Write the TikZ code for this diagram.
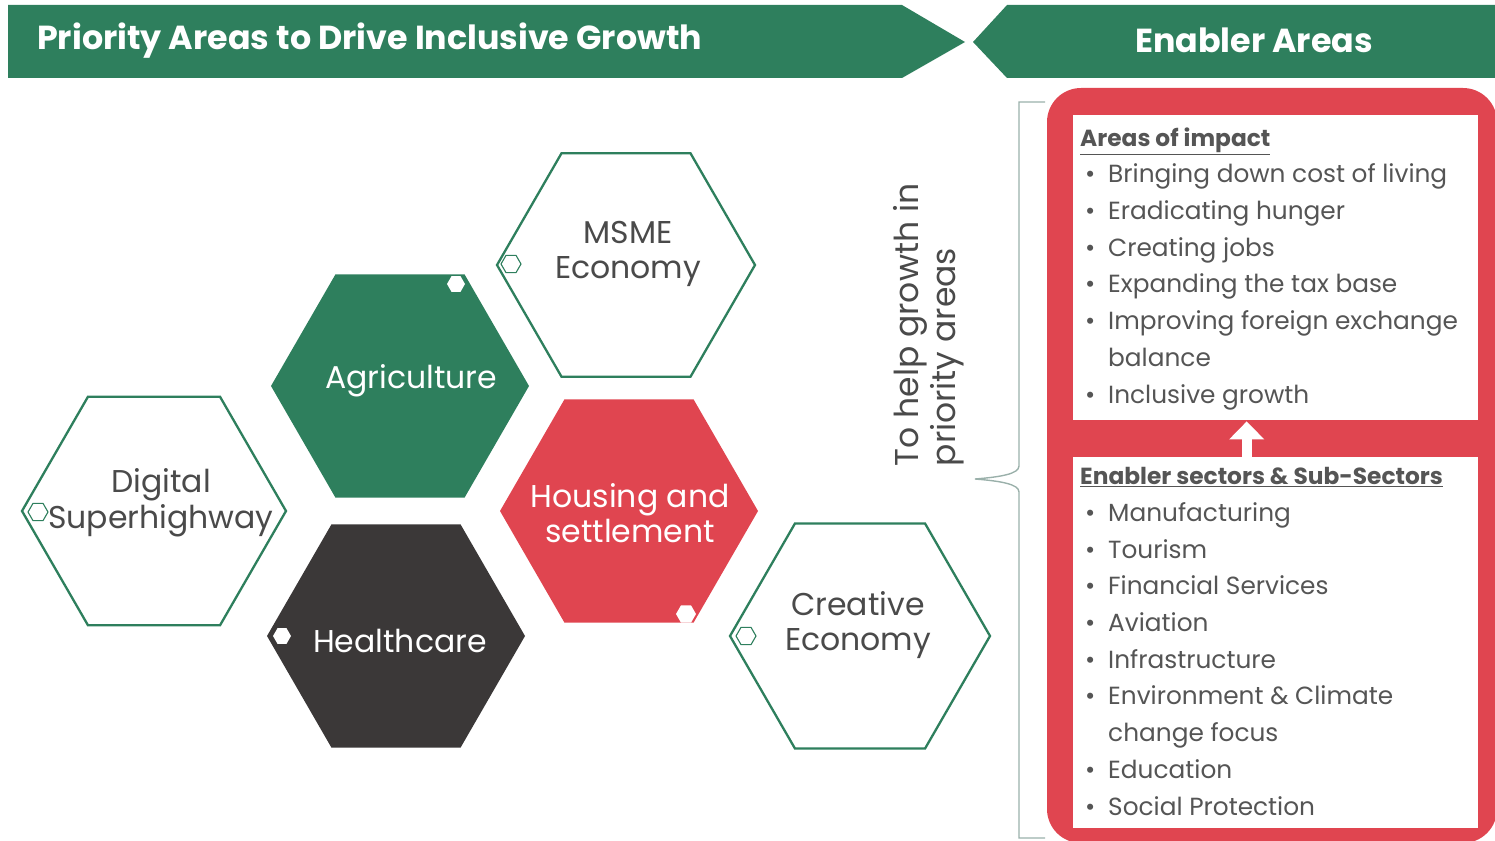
\documentclass[tikz,border=0pt]{standalone}
\usepackage{fontspec}
\setmainfont{Poppins}
\usetikzlibrary{arrows.meta}
\definecolor{pgreen}{HTML}{2E7F5D}
\definecolor{pred}{HTML}{E04550}
\definecolor{pdark}{HTML}{3B3838}
\definecolor{ptext}{HTML}{4A4A4A}
\definecolor{plist}{HTML}{555555}
\definecolor{pbrace}{HTML}{9AB0AA}
\newcommand{\hexa}[4]{\path[#1,shift={(#2,#3)}] (0:#4) -- (60:#4) -- (120:#4) -- (180:#4) -- (240:#4) -- (300:#4) -- cycle;}
\newcommand{\bul}[1]{\hspace*{5pt}\makebox[23pt][l]{\textbullet}#1}
\newcommand{\cont}[1]{\hspace*{28pt}#1}
\newcommand{\listhead}[1]{{\fontsize{23.3}{36.7}\selectfont\bfseries\underline{#1}}}
\tikzset{
  hexout/.style={draw=pgreen,line width=2.3pt,fill=white},
  hexgreen/.style={fill=pgreen},
  hexred/.style={fill=pred},
  hexdark/.style={fill=pdark},
  markout/.style={draw=pgreen,line width=1.1pt,fill=white},
  markwhite/.style={fill=white},
  hextext/.style={align=center,font=\fontsize{31.5}{35.5}\selectfont,text=ptext,inner sep=0pt},
  hexwtext/.style={hextext,text=white},
  vtext/.style={hextext,font=\fontsize{33}{37}\selectfont,align=left,rotate=90},
  headtext/.style={font=\bfseries\fontsize{33.3}{37}\selectfont,text=white,inner sep=0pt},
  listtext/.style={align=left,font=\fontsize{24.8}{36.7}\selectfont,text=plist,inner sep=0pt,anchor=base west},
  whitebox/.style={fill=white,inner sep=0pt},
  bracketline/.style={draw=pbrace,line width=1.4pt},
  uparrow/.style={draw=white,line width=10pt,-{Triangle[width=34pt,length=18pt]}}
}
\begin{document}
\begin{tikzpicture}[x=1pt,y=-1pt]
\useasboundingbox (0,0) rectangle (1495,840);
\clip (0,0) rectangle (1495,840);
% headers
\fill[pgreen] (8,5) -- (902,5) -- (965,42) -- (902,78) -- (8,78) -- cycle;
\fill[pgreen] (1500,5) -- (1007,5) -- (973,42) -- (1007,78) -- (1500,78) -- cycle;
\node[headtext,anchor=west] (lefthead) at (37,41) {Priority Areas to Drive Inclusive Growth};
\node[headtext] (righthead) at (1254,40) {Enabler Areas};
% hexagons
\hexa{hexout}{154}{511}{132}
\hexa{hexgreen}{400}{386}{129}
\hexa{hexout}{626}{265}{129}
\hexa{hexred}{629}{511}{129}
\hexa{hexdark}{396}{636}{129}
\hexa{hexout}{860}{636}{130}
% small markers
\hexa{markout}{511}{264}{10}
\hexa{markwhite}{456}{284}{9}
\hexa{markout}{38}{512}{10}
\hexa{markwhite}{282}{636}{9}
\hexa{markwhite}{686}{614}{10}
\hexa{markout}{746}{636}{10}
% hexagon texts
\node[hextext] (digital) at (161,503) {Digital\\Superhighway};
\node[hextext] (msme) at (628,254) {MSME\\Economy};
\node[hexwtext] (agri) at (411,381) {Agriculture};
\node[hexwtext] (housing) at (630,513) {Housing and\\settlement};
\node[hexwtext] (health) at (400,641) {Healthcare};
\node[hextext] (creative) at (858,625) {Creative\\Economy};
% vertical text
\node[vtext] (help) at (929,325) {To help growth in\\priority areas};
% bracket
\draw[bracketline] (1045,102) -- (1019,102) -- (1019,466)
  .. controls (1019,474) and (1000,477) .. (975,479)
  .. controls (1000,481) and (1019,484) .. (1019,492) -- (1019,838) -- (1045,838);
% red frame
\fill[pred,rounded corners=34pt] (1047,88) rectangle (1497,843);
\node[whitebox,minimum width=405pt,minimum height=305pt,anchor=north west] (impactbox) at (1073,115) {};
\node[whitebox,minimum width=405pt,minimum height=371pt,anchor=north west] (enablerbox) at (1073,457) {};
\draw[uparrow] ([xshift=-29pt]enablerbox.north) -- ([xshift=-29pt,yshift=-1pt]impactbox.south);
% lists
\node[listtext] (impactlist) at (1080,403) {\listhead{Areas of impact}\\
\bul{Bringing down cost of living}\\
\bul{Eradicating hunger}\\
\bul{Creating jobs}\\
\bul{Expanding the tax base}\\
\bul{Improving foreign exchange}\\
\cont{balance}\\
\bul{Inclusive growth}};
\node[listtext] (enablerlist) at (1080,815) {\listhead{Enabler sectors \& Sub-Sectors}\\
\bul{Manufacturing}\\
\bul{Tourism}\\
\bul{Financial Services}\\
\bul{Aviation}\\
\bul{Infrastructure}\\
\bul{Environment \& Climate}\\
\cont{change focus}\\
\bul{Education}\\
\bul{Social Protection}};
\end{tikzpicture}
\end{document}
